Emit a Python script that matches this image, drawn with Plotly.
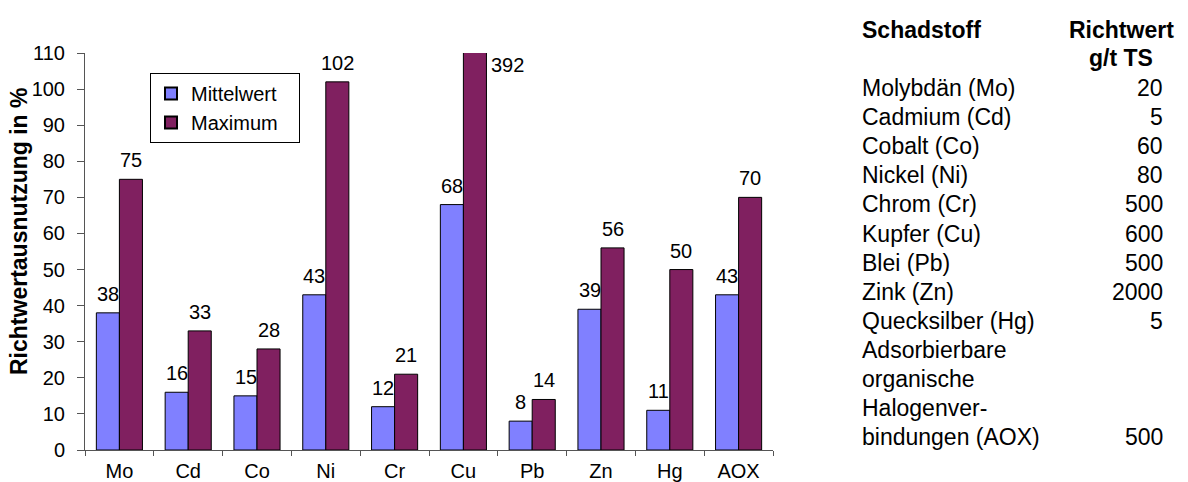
import plotly.graph_objects as go

categories = ["Mo", "Cd", "Co", "Ni", "Cr", "Cu", "Pb", "Zn", "Hg", "AOX"]
mittelwert = [38, 16, 15, 43, 12, 68, 8, 39, 11, 43]
maximum = [75, 33, 28, 102, 21, 392, 14, 56, 50, 70]
y_ticks = list(range(0, 111, 10))

schadstoffe = ["Molybdän (Mo)", "Cadmium (Cd)", "Cobalt (Co)", "Nickel (Ni)", "Chrom (Cr)",
               "Kupfer (Cu)", "Blei (Pb)", "Zink (Zn)", "Quecksilber (Hg)",
               "Adsorbierbare", "organische", "Halogenver-", "bindungen (AOX)"]
richtwerte = ["20", "5", "60", "80", "500", "600", "500", "2000", "5", "", "", "", "500"]

YMAX = 110
FONT = "Liberation Sans, Arial, sans-serif"
W, H = 1188, 482
L, R, T, B = 85, 415, 53, 32
PW, PH = W - L - R, H - T - B
FS = 20
FS_TAB = 23
BAR_OFF = 11.5  # half bar width in px (label centring over each bar)

def px(x):
    return (x - L) / PW

def py(y):
    return (H - B - y) / PH

fig = go.Figure()
fig.add_trace(go.Bar(name="Mittelwert\u00a0\u00a0\u00a0", x=categories, y=mittelwert,
                     marker=dict(color="#8080FF", line=dict(color="black", width=1))))
fig.add_trace(go.Bar(name="Maximum", x=categories, y=maximum,
                     marker=dict(color="#802060", line=dict(color="black", width=1))))

annotations = []
lab_font = dict(size=FS, color="black", family=FONT)
for c, v in zip(categories, mittelwert):
    annotations.append(dict(x=c, y=v, xref="x", yref="y", text=str(v), showarrow=False,
                            xanchor="center", yanchor="bottom", xshift=-BAR_OFF, yshift=6,
                            font=lab_font))
for c, v in zip(categories, maximum):
    if v > YMAX:
        annotations.append(dict(x=c, y=YMAX, xref="x", yref="y", text=str(v),
                                showarrow=False, xanchor="left", yanchor="top",
                                xshift=2 * BAR_OFF + 3, yshift=1, font=lab_font))
    else:
        annotations.append(dict(x=c, y=v, xref="x", yref="y", text=str(v), showarrow=False,
                                xanchor="center", yanchor="bottom", xshift=BAR_OFF, yshift=6,
                                font=lab_font))

annotations.append(dict(x=px(19), y=py(231), xref="paper", yref="paper",
                        xanchor="center", yanchor="middle",
                        text="<b>Richtwertausnutzung in %</b>", textangle=-90,
                        showarrow=False, font=dict(size=FS_TAB, color="black", family=FONT)))

# table
annotations.append(dict(x=px(860), y=py(30), xref="paper", yref="paper", text="<b>Schadstoff</b>",
                        showarrow=False, xanchor="left", yanchor="middle",
                        font=dict(size=FS_TAB, color="black", family=FONT)))
annotations.append(dict(x=px(1121), y=py(30), xref="paper", yref="paper", text="<b>Richtwert</b>",
                        showarrow=False, xanchor="center", yanchor="middle",
                        font=dict(size=FS_TAB, color="black", family=FONT)))
annotations.append(dict(x=px(1121), y=py(58), xref="paper", yref="paper", text="<b>g/t TS</b>",
                        showarrow=False, xanchor="center", yanchor="middle",
                        font=dict(size=FS_TAB, color="black", family=FONT)))
for i, (s, r) in enumerate(zip(schadstoffe, richtwerte)):
    yy = 88 + i * 29.1
    annotations.append(dict(x=px(860), y=py(yy), xref="paper", yref="paper", text=s,
                            showarrow=False, xanchor="left", yanchor="middle",
                            font=dict(size=FS_TAB, color="black", family=FONT)))
    if r:
        annotations.append(dict(x=px(1165), y=py(yy), xref="paper", yref="paper", text=r,
                                showarrow=False, xanchor="right", yanchor="middle",
                                font=dict(size=FS_TAB, color="black", family=FONT)))

fig.update_layout(
    width=W, height=H,
    margin=dict(l=L, r=R, t=T, b=B),
    paper_bgcolor="white", plot_bgcolor="white",
    font=dict(family=FONT, size=FS, color="black"),
    barmode="group", bargap=0.33, bargroupgap=0,
    showlegend=True,
    legend=dict(x=px(150), y=py(73), xanchor="left", yanchor="top",
                bordercolor="black", borderwidth=1, bgcolor="white",
                font=dict(size=FS, family=FONT), tracegroupgap=4,
                itemsizing="constant"),
    annotations=annotations,
    xaxis=dict(type="category", showline=True, linecolor="#555", linewidth=1,
               ticks="outside", tickson="boundaries", ticklen=5, tickcolor="#555",
               tickfont=dict(size=FS), ticklabelstandoff=3, showgrid=False,
               automargin=False),
    yaxis=dict(range=[0, YMAX], tickvals=y_ticks, showline=True, linecolor="#555",
               linewidth=1, ticks="outside", ticklen=7, tickcolor="#555",
               tickfont=dict(size=FS), ticklabelstandoff=8, showgrid=False, zeroline=False,
               automargin=False),
)

fig.write_html("out.html")
